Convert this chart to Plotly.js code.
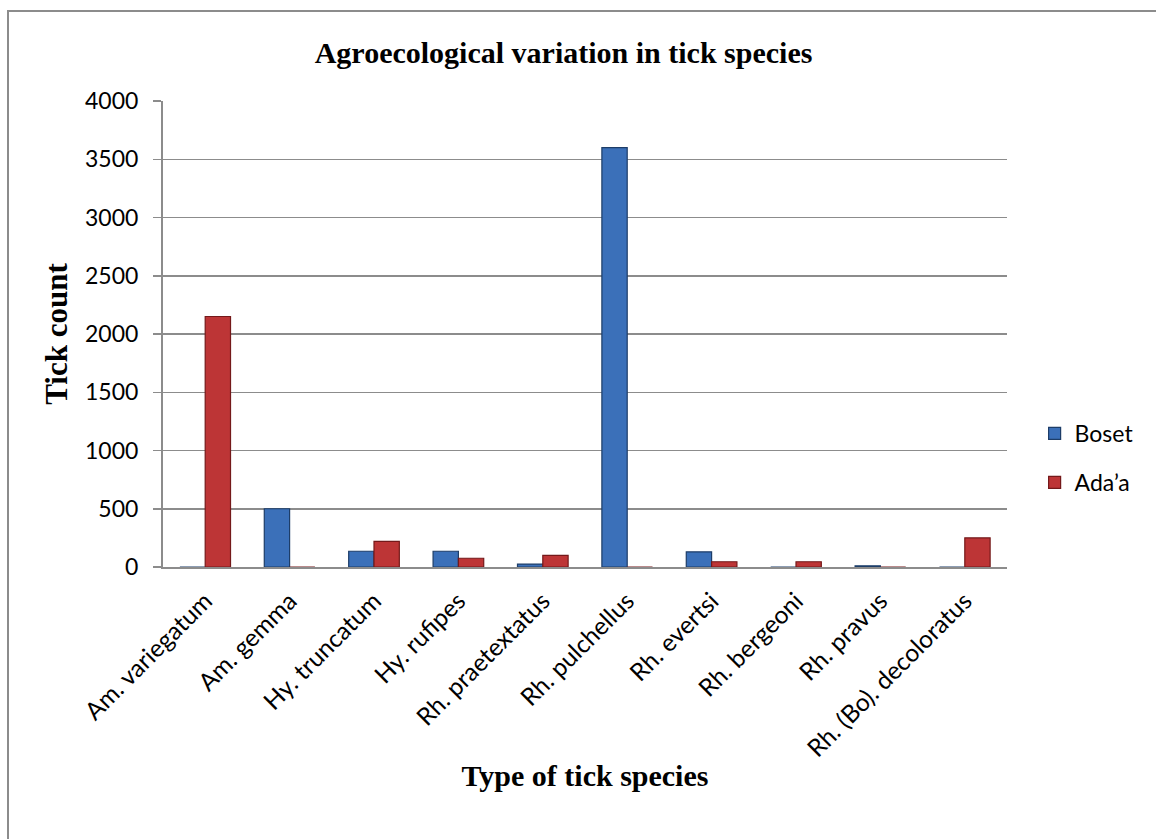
<!DOCTYPE html>
<html>
<head>
<meta charset="utf-8">
<script src="https://cdn.plot.ly/plotly-3.0.1.min.js"></script>
<style>
  html, body { margin: 0; padding: 0; background: #fff; }
  #frame { position: absolute; left: 7px; top: 10px; width: 1160px; height: 840px;
           border-left: 2px solid #8c8c8c; border-top: 2px solid #8c8c8c; pointer-events: none; z-index: 5; }
  #chart { position: absolute; left: 0; top: 0; width: 1156px; height: 839px; }
</style>
</head>
<body>
<div id="chart"></div>
<div id="frame"></div>
<script>
const categories = ["Am. variegatum", "Am. gemma", "Hy. truncatum", "Hy. rufipes", "Rh. praetextatus",
                    "Rh. pulchellus", "Rh. evertsi", "Rh. bergeoni", "Rh. pravus", "Rh. (Bo). decoloratus"];
const boset = [0, 500, 135, 135, 25, 3600, 130, 0, 10, 0];
const adaa  = [2150, 0, 220, 75, 100, 0, 45, 45, 0, 250];
const yTicks = [0, 500, 1000, 1500, 2000, 2500, 3000, 3500, 4000];

const traces = [
  { type: "bar", name: "Boset", x: categories, y: boset, legendgroup: "a",
    marker: { color: "#3b70b9", line: { color: "#1d3d68", width: 1.2 } } },
  { type: "bar", name: "Ada\u2019a", x: categories, y: adaa, legendgroup: "b",
    marker: { color: "#bd3536", line: { color: "#74191a", width: 1.2 } } }
];

const layout = {
  width: 1156, height: 839,
  margin: { l: 163, r: 149, t: 101, b: 272 },
  paper_bgcolor: "#ffffff", plot_bgcolor: "#ffffff",
  barmode: "group", bargap: 0.4, bargroupgap: 0,
  title: { text: "<b>Agroecological variation in tick species</b>",
           font: { family: "Liberation Serif, Times New Roman, serif", size: 30, color: "#000" },
           x: 0.4875, xref: "container", xanchor: "center", y: 0.937, yanchor: "middle" },
  xaxis: {
    type: "category", tickangle: -45,
    tickfont: { family: "Lato, Carlito, sans-serif", size: 24.5, color: "#000" },
    ticklabelstandoff: 8,
    showgrid: false, showline: true, linecolor: "#8c8c8c", linewidth: 2,
    ticks: "", zeroline: false,
    title: { text: "<b>Type of tick species</b>", standoff: 4,
             font: { family: "Liberation Serif, Times New Roman, serif", size: 30, color: "#000" } }
  },
  yaxis: {
    range: [0, 4000], tickvals: yTicks, ticktext: yTicks.map(String),
    tickfont: { family: "Lato, Carlito, sans-serif", size: 23, color: "#000" },
    ticklabelstandoff: 10,
    showgrid: true, gridcolor: "#8c8c8c", gridwidth: 1.5,
    showline: true, linecolor: "#8c8c8c", linewidth: 2,
    ticks: "outside", ticklen: 8, tickcolor: "#8c8c8c", tickwidth: 1.5,
    zeroline: false,
    title: { text: "<b>Tick count</b>", standoff: 8,
             font: { family: "Liberation Serif, Times New Roman, serif", size: 31, color: "#000" } }
  },
  showlegend: true,
  legend: { xref: "container", yref: "container", x: 0.895, y: 0.509, xanchor: "left", yanchor: "top",
            font: { family: "Lato, Carlito, sans-serif", size: 23, color: "#000" },
            tracegroupgap: 16, bgcolor: "rgba(0,0,0,0)" }
};

Plotly.newPlot("chart", traces, layout, { displayModeBar: false, staticPlot: true });
</script>
</body>
</html>
